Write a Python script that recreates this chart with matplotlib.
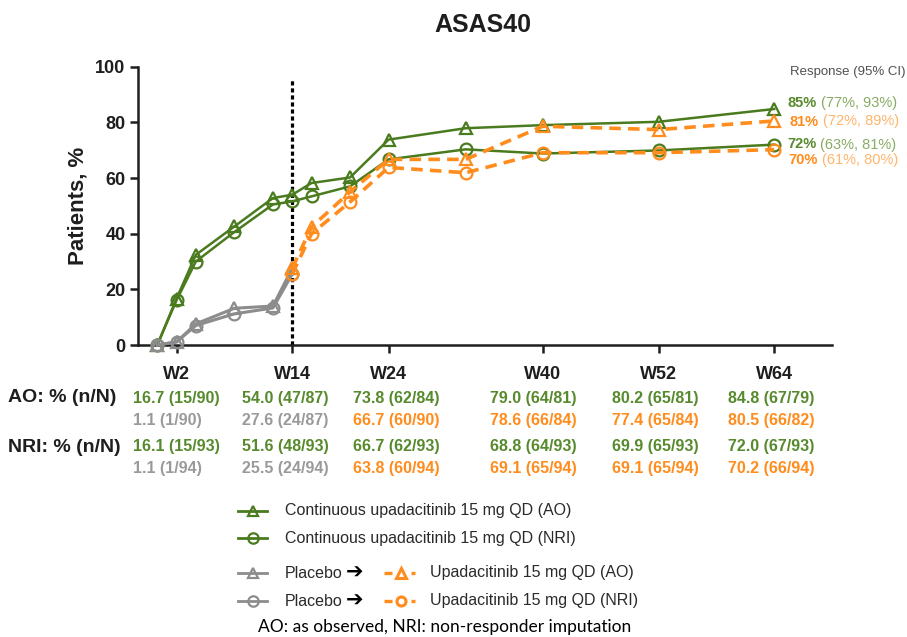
import matplotlib
matplotlib.use("Agg")
import matplotlib.pyplot as plt

# ---------------- data ----------------
weeks = [0, 2, 4, 8, 12, 14, 16, 20, 24, 32, 40, 52, 64]
cont_ao = [0, 16.7, 32.4, 42.6, 52.8, 54.0, 58.2, 60.2, 73.8, 77.9, 79.0, 80.2, 84.8]
cont_nri = [0, 16.1, 30.0, 40.6, 50.5, 51.6, 53.4, 57.0, 66.7, 70.3, 68.8, 69.9, 72.0]

pbo_weeks = [0, 2, 4, 8, 12, 14]
pbo_ao = [0, 1.1, 7.6, 13.2, 14.0, 27.6]
pbo_nri = [0, 1.1, 7.0, 11.2, 13.3, 25.5]

upa_weeks = [14, 16, 20, 24, 32, 40, 52, 64]
upa_ao = [27.6, 42.4, 55.0, 66.7, 66.7, 78.6, 77.4, 80.5]
upa_nri = [25.5, 40.0, 51.4, 63.8, 61.9, 69.1, 69.1, 70.2]

tick_weeks = [2, 14, 24, 40, 52, 64]
tick_labels = ["W2", "W14", "W24", "W40", "W52", "W64"]

ao_cont_txt = ["16.7 (15/90)", "54.0 (47/87)", "73.8 (62/84)", "79.0 (64/81)", "80.2 (65/81)", "84.8 (67/79)"]
ao_pbo_txt = ["1.1 (1/90)", "27.6 (24/87)", "66.7 (60/90)", "78.6 (66/84)", "77.4 (65/84)", "80.5 (66/82)"]
nri_cont_txt = ["16.1 (15/93)", "51.6 (48/93)", "66.7 (62/93)", "68.8 (64/93)", "69.9 (65/93)", "72.0 (67/93)"]
nri_pbo_txt = ["1.1 (1/94)", "25.5 (24/94)", "63.8 (60/94)", "69.1 (65/94)", "69.1 (65/94)", "70.2 (66/94)"]

resp_main = ["85%", "81%", "72%", "70%"]
resp_ci = ["(77%, 93%)", "(72%, 89%)", "(63%, 81%)", "(61%, 80%)"]

legend_labels = ["Continuous upadacitinib 15 mg QD (AO)",
                 "Continuous upadacitinib 15 mg QD (NRI)",
                 "Upadacitinib 15 mg QD (AO)",
                 "Upadacitinib 15 mg QD (NRI)"]

# ---------------- style ----------------
GREEN = "#4a7b1e"
GREEN_T = "#578a2c"
GREEN_L = "#88ab62"
ORANGE = "#ff8c1c"
ORANGE_L = "#ffb56c"
GRAY = "#8c8c8c"
GRAY_T = "#9a9a9a"
DARK = "#1e1e1e"
FONT = ["Liberation Sans", "DejaVu Sans"]

plt.rcParams["font.family"] = FONT

W, H = 907, 637
fig = plt.figure(figsize=(W / 100, H / 100), dpi=100)

def fx(px):
    return px / W

def fy(py):
    return 1 - py / H

ax_l, ax_r, ax_t, ax_b = 138, 832, 66.7, 345
ax = fig.add_axes([fx(ax_l), fy(ax_b), (ax_r - ax_l) / W, (ax_b - ax_t) / H])
ax.set_xlim(-2, 70)
ax.set_ylim(0, 100)
ax.patch.set_alpha(0)

for s in ["top", "right"]:
    ax.spines[s].set_visible(False)
for s in ["left", "bottom"]:
    ax.spines[s].set_linewidth(1.8)
    ax.spines[s].set_color(DARK)

ax.set_yticks([0, 20, 40, 60, 80, 100])
ax.set_xticks(tick_weeks)
ax.set_xticklabels(tick_labels)
ax.tick_params(axis="both", direction="out", length=6, width=1.8, color=DARK,
               labelsize=13, labelcolor=DARK)
ax.tick_params(axis="x", pad=9)
ax.tick_params(axis="y", pad=3)
for lab in ax.get_xticklabels() + ax.get_yticklabels():
    lab.set_fontweight("bold")
    lab.set_family(FONT)

# vertical dashed line at W14
ax.plot([14, 14], [0, 95.2], color="black", lw=2.3, ls=(0, (1.3, 0.9)), zorder=2, clip_on=False)

mk_tri = dict(marker="^", markersize=9, fillstyle="none", markeredgewidth=1.6)
mk_cir = dict(marker="o", markersize=8.5, fillstyle="none", markeredgewidth=1.6)

ax.plot(weeks, cont_ao, color=GREEN, lw=1.8, zorder=3, clip_on=False, **mk_tri)
ax.plot(weeks, cont_nri, color=GREEN, lw=1.8, zorder=3, clip_on=False, **mk_cir)
ax.plot(pbo_weeks, pbo_ao, color=GRAY, lw=2.2, zorder=4, clip_on=False, **mk_tri)
ax.plot(pbo_weeks, pbo_nri, color=GRAY, lw=2.2, zorder=4, clip_on=False, **mk_cir)
ax.plot(upa_weeks, upa_ao, color=ORANGE, lw=2.6, ls=(0, (3.2, 2.0)), zorder=5, clip_on=False, **mk_tri)
ax.plot(upa_weeks, upa_nri, color=ORANGE, lw=2.6, ls=(0, (3.2, 2.0)), zorder=5, clip_on=False, **mk_cir)

# title & y label
fig.text(fx(483), fy(25), "ASAS40", ha="center", va="center", fontsize=18, fontweight="bold", color=DARK,
         family=["Liberation Sans Narrow", "Liberation Sans", "DejaVu Sans"])
fig.text(fx(78), fy(206), "Patients, %", ha="center", va="center", rotation=90,
         fontsize=16, fontweight="bold", color=DARK)

# response annotations
fig.text(fx(906), fy(72), "Response (95% CI)", ha="right", va="center", fontsize=9.5, color="#505050")
resp_y = [103, 121.5, 144.5, 160.5]
resp_c = [(GREEN_T, GREEN_L), (ORANGE, ORANGE_L), (GREEN_T, GREEN_L), (ORANGE, ORANGE_L)]
resp_x = [788, 790, 787, 788]
for m, ci, y, (c1, c2), x in zip(resp_main, resp_ci, resp_y, resp_c, resp_x):
    t1 = fig.text(fx(x), fy(y), m, ha="left", va="center", fontsize=10.5, fontweight="bold", color=c1)
    ax.annotate(ci, xy=(1, 0), xycoords=t1, xytext=(3, 0), textcoords="offset points",
                ha="left", va="bottom", fontsize=10.5, color=c2, annotation_clip=False)

# table
col_x = [133, 242, 353, 490, 612, 728]
row_y = [398, 420, 447, 468.5]
fig.text(fx(8), fy(row_y[0]), "AO: % (n/N)", ha="left", va="center", fontsize=14, fontweight="bold", color=DARK)
fig.text(fx(8), fy(row_y[2]), "NRI: % (n/N)", ha="left", va="center", fontsize=14, fontweight="bold", color=DARK)
rows = [ao_cont_txt, ao_pbo_txt, nri_cont_txt, nri_pbo_txt]
for r, (vals, y) in enumerate(zip(rows, row_y)):
    for c, (v, x) in enumerate(zip(vals, col_x)):
        if r in (0, 2):
            col = GREEN_T
        else:
            col = GRAY_T if c < 2 else ORANGE
        fig.text(fx(x), fy(y), v, ha="left", va="center", fontsize=11.5, fontweight="bold", color=col)

# legend (drawn in a pixel-coordinate overlay axes)
lg = fig.add_axes([0, 0, 1, 1])
lg.set_xlim(0, W)
lg.set_ylim(H, 0)
lg.axis("off")
lg.patch.set_alpha(0)

leg_y = [511, 538, 573, 601]
lmk_tri = dict(marker="^", markersize=7.5, fillstyle="none", markeredgewidth=1.6)
lmk_cir = dict(marker="o", markersize=7.5, fillstyle="none", markeredgewidth=1.6)
lg.plot([238, 267], [leg_y[0]] * 2, color=GREEN, lw=2.0)
lg.plot([252.5], [leg_y[0]], color=GREEN, **lmk_tri)
lg.plot([238, 267], [leg_y[1]] * 2, color=GREEN, lw=2.0)
lg.plot([252.5], [leg_y[1]], color=GREEN, **lmk_cir)
lg.plot([238, 267], [leg_y[2]] * 2, color=GRAY, lw=2.0)
lg.plot([252.5], [leg_y[2]], color=GRAY, **lmk_tri)
lg.plot([238, 267], [leg_y[3]] * 2, color=GRAY, lw=2.0)
lg.plot([252.5], [leg_y[3]], color=GRAY, **lmk_cir)

omk_tri = dict(marker="^", markersize=6.5, fillstyle="none", markeredgewidth=2.2)
omk_cir = dict(marker="o", markersize=6.5, fillstyle="none", markeredgewidth=2.2)
for y, mk in ((leg_y[2], omk_tri), (leg_y[3], omk_cir)):
    lg.plot([384, 392], [y, y], color=ORANGE, lw=2.4, solid_capstyle="butt")
    lg.plot([411, 415], [y, y], color=ORANGE, lw=2.4, solid_capstyle="butt")
    lg.plot([401], [y], color=ORANGE, **mk)

LEG_C = "#2a2a2a"
lg.text(285, leg_y[0], legend_labels[0], ha="left", va="center", fontsize=11.5, color=LEG_C)
lg.text(285, leg_y[1], legend_labels[1], ha="left", va="center", fontsize=11.5, color=LEG_C)
for y, lab in ((leg_y[2], legend_labels[2]), (leg_y[3], legend_labels[3])):
    lg.text(285, y, "Placebo", ha="left", va="center", fontsize=11.5, color=LEG_C)
    lg.text(346, y, "\u2794", ha="left", va="center", fontsize=15, fontweight="bold", color="black",
            family=["DejaVu Sans"])
    lg.text(430, y, lab, ha="left", va="center", fontsize=11.5, color=LEG_C)

fig.text(fx(445), fy(627), "AO: as observed, NRI: non-responder imputation", ha="center", va="center",
         fontsize=12.5, color="black", family=["Lato", "DejaVu Sans"])

fig.savefig("out.png", dpi=100, facecolor="white")
